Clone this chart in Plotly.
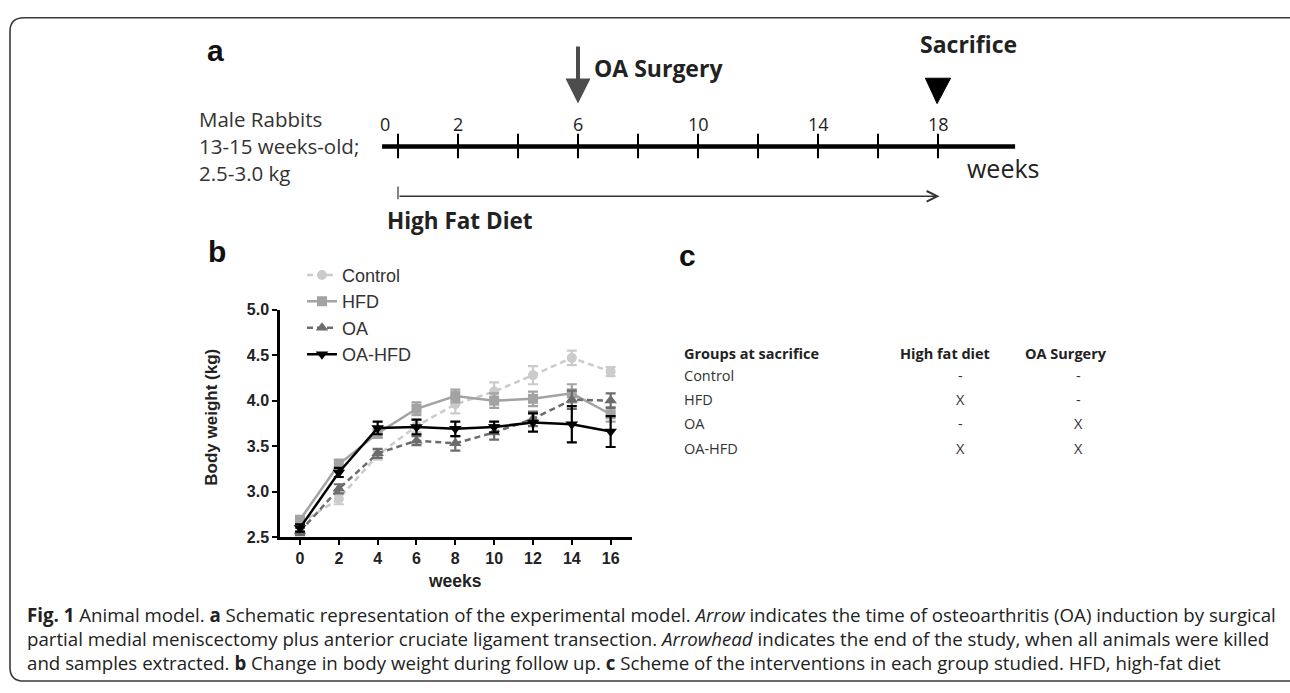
import plotly.graph_objects as go

W, H = 1290, 693

# ---------------- data (panel b) ----------------
weeks = [0, 2, 4, 6, 8, 10, 12, 14, 16]
control = [2.65, 2.92, 3.40, 3.72, 3.96, 4.10, 4.28, 4.47, 4.32]
control_err = [0.04, 0.06, 0.05, 0.07, 0.10, 0.10, 0.10, 0.08, 0.05]
hfd = [2.69, 3.30, 3.64, 3.91, 4.05, 4.00, 4.02, 4.08, 3.85]
hfd_err = [0.04, 0.05, 0.05, 0.07, 0.07, 0.08, 0.08, 0.10, 0.08]
oa = [2.56, 3.03, 3.42, 3.56, 3.53, 3.65, 3.80, 4.01, 4.00]
oa_err = [0.04, 0.05, 0.05, 0.05, 0.08, 0.08, 0.08, 0.10, 0.08]
oahfd = [2.60, 3.21, 3.70, 3.71, 3.69, 3.71, 3.76, 3.74, 3.66]
oahfd_err = [0.04, 0.05, 0.07, 0.08, 0.08, 0.06, 0.10, 0.20, 0.17]
y_ticks = [2.5, 3.0, 3.5, 4.0, 4.5, 5.0]

# ---------------- data (panel a) ----------------
timeline_weeks = [0, 2, 4, 6, 8, 10, 12, 14, 16, 18]
timeline_labels = [0, 2, 6, 10, 14, 18]
surgery_week = 6
sacrifice_week = 18
diet_start, diet_end = 0, 18

# ---------------- data (panel c) ----------------
table_header = ["Groups at sacrifice", "High fat diet", "OA Surgery"]
table_groups = ["Control", "HFD", "OA", "OA-HFD"]
table_diet = ["-", "X", "-", "X"]
table_surgery = ["-", "-", "X", "X"]

caption_lines = [
    "<b>Fig. 1</b> Animal model. <b>a</b> Schematic representation of the experimental model. "
    "<i>Arrow</i> indicates the time of osteoarthritis (OA) induction by surgical",
    "partial medial meniscectomy plus anterior cruciate ligament transection. "
    "<i>Arrowhead</i> indicates the end of the study, when all animals were killed",
    "and samples extracted. <b>b</b> Change in body weight during follow up. "
    "<b>c</b> Scheme of the interventions in each group studied. HFD, high-fat diet",
]


def px(x):
    return x / W


def py(y):
    return 1 - y / H


ARIAL = "Liberation Sans, Arial, sans-serif"
CALI = "Open Sans, sans-serif"

fig = go.Figure()

# ---------- panel b traces ----------
series = [
    ("Control", control, control_err, "#cbcbcb", "6px,4px", "circle", 10),
    ("HFD", hfd, hfd_err, "#a3a3a3", "solid", "square", 10),
    ("OA", oa, oa_err, "#6c6c6c", "6px,4px", "triangle-up", 11),
    ("OA-HFD", oahfd, oahfd_err, "#000000", "solid", "triangle-down", 11),
]
for name, vals, err, col, dash, sym, ms in series:
    fig.add_trace(go.Scatter(
        x=weeks, y=vals, name=name, mode="lines+markers",
        line=dict(color=col, width=2.5, dash=dash),
        marker=dict(symbol=sym, size=ms, color=col),
        error_y=dict(type="data", array=err, color=col, thickness=2.2, width=5),
        cliponaxis=False,
    ))

# ---------- panel a (timeline in week units, pixel rows) ----------
TL_X0, TL_PPW = 398, 30.0
tl_ticks_x, tl_ticks_y = [], []
for w in timeline_weeks:
    tl_ticks_x += [w, w, None]
    tl_ticks_y += [129, 154, None]
fig.add_trace(go.Scatter(x=[timeline_weeks[0] - 0.53, timeline_weeks[-1] + 2.57], y=[142, 142],
                         mode="lines", line=dict(color="#000", width=4.5),
                         xaxis="x2", yaxis="y2", showlegend=False, hoverinfo="skip"))
fig.add_trace(go.Scatter(x=tl_ticks_x, y=tl_ticks_y, mode="lines",
                         line=dict(color="#000", width=2),
                         xaxis="x2", yaxis="y2", showlegend=False, hoverinfo="skip"))
fig.add_trace(go.Scatter(x=[diet_start, diet_start], y=[183, 196], mode="lines",
                         line=dict(color="#333", width=1.2),
                         xaxis="x2", yaxis="y2", showlegend=False, hoverinfo="skip"))

annotations = []


def ann(**kw):
    kw.setdefault("showarrow", False)
    kw.setdefault("xanchor", "center")
    kw.setdefault("yanchor", "middle")
    annotations.append(kw)


for lab in timeline_labels:
    ann(x=lab - (0.43 if lab == 0 else 0), y=119, xref="x2", yref="y2", text=str(lab),
        font=dict(family=CALI, size=18, color="#222"))
# high fat diet arrow
ann(x=diet_end + 0.05, y=193, ax=diet_start, ay=193, xref="x2", yref="y2",
    axref="x2", ayref="y2", text="", showarrow=True, arrowhead=5,
    arrowsize=1.6, arrowwidth=1.3, arrowcolor="#333")
# OA surgery arrow
ann(x=surgery_week, y=98, ax=surgery_week, ay=38, xref="x2", yref="y2",
    axref="x2", ayref="y2", text="", showarrow=True, arrowhead=2,
    arrowsize=1.25, arrowwidth=4, arrowcolor="#4d4d4d")
ann(x=surgery_week + 0.45, y=62, xref="x2", yref="y2", xanchor="left",
    text="<b>OA Surgery</b>", font=dict(family=CALI, size=23, color="#222"))
ann(x=sacrifice_week + 1.0, y=37, xref="x2", yref="y2",
    text="<b>Sacrifice</b>", font=dict(family=CALI, size=23, color="#222"))
ann(x=diet_start - 0.45, y=218, xref="x2", yref="y2", xanchor="left",
    text="<b>High Fat Diet</b>", font=dict(family=CALI, size=22.5, color="#222"))
ann(x=timeline_weeks[-1] + 0.9, y=164, xref="x2", yref="y2", xanchor="left",
    text="weeks", font=dict(family=CALI, size=25, color="#222"))
for i, t in enumerate(["Male Rabbits", "13-15 weeks-old;", "2.5-3.0 kg"]):
    ann(x=px(197), y=py(114 + 27.5 * i), xref="paper", yref="paper", xanchor="left",
        text=t, font=dict(family=CALI, size=20.5, color="#333"))

# panel letters
for letter, (lx, ly) in zip(["a", "b", "c"], [(215, 44), (217, 250), (687, 254)]):
    ann(x=px(lx), y=py(ly), xref="paper", yref="paper", text=f"<b>{letter}</b>",
        font=dict(family=ARIAL, size=30, color="#111"))

# panel b axis titles
ann(x=px(455), y=py(587), xref="paper", yref="paper", text="<b>weeks</b>",
    font=dict(family=ARIAL, size=17.5, color="#222"))
ann(x=px(212), y=py(420), xref="paper", yref="paper", text="<b>Body weight (kg)</b>",
    textangle=-90, font=dict(family=ARIAL, size=17, color="#222"))

# ---------- panel c table ----------
hdr_x = [682, 898, 1023]
for t, hx in zip(table_header, hdr_x):
    ann(x=px(hx), y=py(354), xref="paper", yref="paper", xanchor="left",
        text=f"<b>{t}</b>", font=dict(family=CALI, size=14.5, color="#222"))
for i, (g, d, s) in enumerate(zip(table_groups, table_diet, table_surgery)):
    yy = py(377 + 24.7 * i)
    ann(x=px(682), y=yy, xref="paper", yref="paper", xanchor="left",
        text=g, font=dict(family=CALI, size=14.5, color="#333"))
    ann(x=px(960), y=yy, xref="paper", yref="paper",
        text=d, font=dict(family=CALI, size=14.5, color="#333"))
    ann(x=px(1078), y=yy, xref="paper", yref="paper",
        text=s, font=dict(family=CALI, size=14.5, color="#333"))

# ---------- caption ----------
for i, line in enumerate(caption_lines):
    ann(x=px(25), y=py(622 + 24.7 * i), xref="paper", yref="paper", xanchor="left",
        text=line, font=dict(family=CALI, size=18.7, color="#222"))

# ---------- shapes ----------
r = 14
x0b, y0b, y1b, x1b = 10, 10, 690, 1310
border_path = (f"M {px(x1b)},{py(y0b)} L {px(x0b + r)},{py(y0b)} "
               f"Q {px(x0b)},{py(y0b)} {px(x0b)},{py(y0b + r)} "
               f"L {px(x0b)},{py(y1b - r)} Q {px(x0b)},{py(y1b)} {px(x0b + r)},{py(y1b)} "
               f"L {px(x1b)},{py(y1b)}")
shapes = [
    dict(type="path", xref="paper", yref="paper", path=border_path,
         line=dict(color="#3a3a3a", width=1.6)),
    dict(type="path", xref="x2", yref="y2",
         path=f"M {sacrifice_week - 0.42},72 L {sacrifice_week + 0.42},72 L {sacrifice_week - 0.03},98 Z",
         fillcolor="#000", line=dict(color="#000", width=1)),
]

fig.update_layout(
    width=W, height=H, autosize=False, margin=dict(l=0, r=0, t=0, b=0, pad=0),
    paper_bgcolor="white", plot_bgcolor="rgba(0,0,0,0)",
    showlegend=True,
    legend=dict(x=px(302), y=py(255), xanchor="left", yanchor="top",
                bgcolor="rgba(0,0,0,0)", borderwidth=0, tracegroupgap=0,
                font=dict(family=ARIAL, size=18, color="#333"), itemwidth=30),
    xaxis=dict(domain=[px(280), px(632)], range=[-1.03, 17.1], tickvals=weeks,
               showline=True, linecolor="#000", linewidth=2.5, ticks="outside",
               ticklen=5, tickwidth=2, tickcolor="#000", showgrid=False, zeroline=False,
               tickfont=dict(family=ARIAL, size=16, color="#222", weight="bold"),
               anchor="y"),
    yaxis=dict(domain=[py(542.3), py(309.3)], range=[2.5, 5.0], tickvals=y_ticks,
               ticktext=[f"{v:.1f}" for v in y_ticks],
               showline=True, linecolor="#000", linewidth=2.5, ticks="outside",
               ticklen=5, tickwidth=2, tickcolor="#000", showgrid=False, zeroline=False,
               tickfont=dict(family=ARIAL, size=16, color="#222", weight="bold"),
               anchor="x"),
    xaxis2=dict(domain=[0, 1], range=[-TL_X0 / TL_PPW, (W - TL_X0) / TL_PPW], visible=False,
                anchor="y2", fixedrange=True),
    yaxis2=dict(domain=[0, 1], range=[H, 0], visible=False, anchor="x2", fixedrange=True),
    annotations=annotations,
    shapes=shapes,
)

page_fix = (
    "var d=document.getElementById('{plot_id}');"
    "document.documentElement.style.cssText='margin:0;padding:0;overflow:hidden;height:693px;';"
    "document.body.style.cssText='margin:0;padding:0;overflow:hidden;height:693px;';"
    "if(d){d.style.position='absolute';d.style.left='0px';d.style.top='0px';}"
)
fig.write_html(
    "out.html",
    config={"displayModeBar": False, "responsive": False},
    post_script=page_fix,
)
